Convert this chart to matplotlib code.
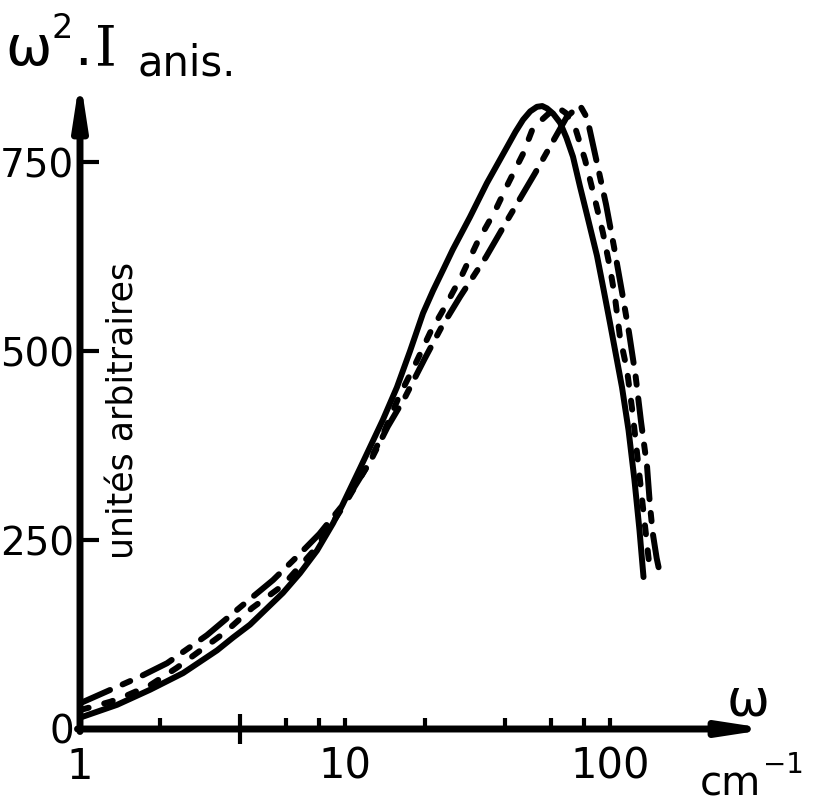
import matplotlib
matplotlib.use('Agg')
import matplotlib.pyplot as plt
from matplotlib.ticker import FixedLocator, FixedFormatter, NullFormatter


# omega (cm-1) and w^2.I_anis (arbitrary units)
omega_solid = [1.0, 1.38, 1.84, 2.45, 3.29, 3.78, 4.38, 5.83, 6.76, 7.84, 9.01, 9.8,
               11.4, 13.9, 15.7, 17.6, 19.7, 21.5, 23.5, 25.5, 29.6, 34.3, 40.9, 44,
               47, 50, 53, 55.5, 57.8, 61, 64.8, 68.5, 72.5, 77, 81.9, 89.3, 94.5,
               100, 111, 117.5, 123.7, 129.2, 133.8]
I_solid = [15, 32, 52, 74, 104, 121, 138, 180, 206, 236, 272, 297,
           345, 409, 452, 500, 550, 580, 608, 634, 677, 722, 770, 790,
           806, 817, 823, 824, 821, 814, 802, 782, 757, 718, 680, 626, 582,
           537, 452, 395, 329, 263, 201]

omega_dash = [1.0, 1.30, 1.45, 1.84, 2.32, 3.53, 4.46, 5.83, 7.8, 10, 12, 14, 16,
              18.5, 21, 23.8, 27.6, 31.5, 36.8, 41.2, 47, 51.2, 57.8, 63, 68, 73.8,
              80.5, 87.8, 94.1, 100, 104.4, 109, 115.9, 121, 124.7, 128.3, 132.6,
              136.7, 140.4]
I_dash = [25, 36, 42, 58, 81, 128, 160, 190, 240, 298, 345, 392, 440,
          484, 525, 558, 600, 643, 685, 721, 761, 795, 812, 823, 815, 796,
          753, 700, 656, 610, 571, 519, 475, 425, 385, 345, 299,
          257, 220]

omega_dd = [1.0, 1.68, 2.13, 3.01, 4.02, 5.35, 6.59, 8.0, 10, 12.5, 14.5, 16.8, 20,
            23, 27.2, 34.0, 41.6, 52.1, 62, 68.8, 77, 82, 85.5, 96.6, 103.5, 111,
            118, 125, 131, 138, 141.5, 145, 150, 154]
I_dd = [34, 69, 87, 124, 161, 197, 228, 258, 300, 355, 400, 438, 490,
        530, 572, 624, 677, 735, 782, 810, 825, 808, 779, 694, 638, 578,
        524, 466, 406, 347, 296, 259, 226, 207]

xtick_pos = [1, 2, 6, 8, 10, 20, 40, 60, 80, 100]
xtick_labels = ['1', '', '', '', '10', '', '', '', '', '100']
ytick_pos = [0, 250, 500, 750]
ytick_labels = ['0', '250', '500', '750']

W, H, DPI = 813, 810, 100
X0_PX = 80        # omega = 1
DEC_PX = 265      # one decade
Y0_PX = 729       # intensity = 0
K = 250 / 189     # units per pixel


def px(x, y):
    return x / W, 1 - y / H


def main():
    plt.rcParams['font.family'] = 'DejaVu Sans'

    fig = plt.figure(figsize=(W / DPI, H / DPI), dpi=DPI)
    ax = fig.add_axes([0, 0, 1, 1])
    ax.set_xscale('log')
    ax.set_xlim(10 ** (-X0_PX / DEC_PX), 10 ** ((W - X0_PX) / DEC_PX))
    ax.set_ylim(-(H - Y0_PX) * K, Y0_PX * K)

    lw = 4.3
    ax.plot(omega_solid, I_solid, color='k', lw=lw,
            solid_capstyle='round', solid_joinstyle='round')
    ax.plot(omega_dash, I_dash, color='k', lw=lw, linestyle=(0, (1.5, 2.7)),
            dash_capstyle='round', dash_joinstyle='round')
    ax.plot(omega_dd, I_dd, color='k', lw=lw, linestyle=(0, (5.5, 2.3, 1.4, 2.3)),
            dash_capstyle='round', dash_joinstyle='round')

    # axes drawn as arrows, ticks sit on invisible spines
    for s in ax.spines.values():
        s.set_visible(False)
    ax.spines['left'].set_position(('data', 1))
    ax.spines['bottom'].set_position(('data', 0))

    head = '-|>,head_length=1.3,head_width=0.2'
    ax.annotate('', xy=(10 ** ((770 - X0_PX) / DEC_PX), 0),
                xytext=(10 ** (-2.5 / DEC_PX), 0),
                arrowprops=dict(arrowstyle=head, lw=5, color='k', shrinkA=0,
                                shrinkB=0, mutation_scale=20),
                annotation_clip=False)
    ax.annotate('', xy=(1, (Y0_PX - 77) * K), xytext=(1, -2.5 * K),
                arrowprops=dict(arrowstyle=head, lw=5, color='k', shrinkA=0,
                                shrinkB=0, mutation_scale=20),
                annotation_clip=False)

    ax.xaxis.set_major_locator(FixedLocator(xtick_pos))
    ax.xaxis.set_major_formatter(FixedFormatter(xtick_labels))
    ax.xaxis.set_minor_locator(FixedLocator([4]))
    ax.xaxis.set_minor_formatter(NullFormatter())
    ax.tick_params(axis='x', which='major', direction='in', length=8, width=3,
                   pad=12, labelsize=30)
    ax.tick_params(axis='x', which='minor', direction='inout', length=21, width=3)

    ax.yaxis.set_major_locator(FixedLocator(ytick_pos))
    ax.yaxis.set_major_formatter(FixedFormatter(ytick_labels))
    ax.yaxis.set_minor_locator(FixedLocator([]))
    ax.tick_params(axis='y', direction='in', length=14, width=3, pad=4,
                   labelsize=28)

    tr = ax.transAxes
    ax.text(*px(5, 65), 'ω', fontsize=40, transform=tr, va='baseline')
    ax.text(*px(52, 38), '2', fontsize=24, transform=tr, va='baseline')
    ax.text(*px(74, 65), '.', fontsize=40, transform=tr, va='baseline')
    ax.text(*px(95, 65), 'I', fontsize=40, family='DejaVu Serif', transform=tr,
            va='baseline')
    ax.text(*px(137, 75), 'anis.', fontsize=30, transform=tr, va='baseline')

    ax.text(*px(133, 410), 'unités arbitraires', fontsize=25, rotation=90,
            rotation_mode='anchor', ha='center', va='baseline', transform=tr)

    ax.text(*px(727, 715), 'ω', fontsize=37, transform=tr, va='baseline')
    ax.text(*px(700, 795), 'cm', fontsize=29, transform=tr, va='baseline')
    ax.text(*px(763, 773), '−1', fontsize=20, transform=tr, va='baseline')

    fig.savefig('out.png', dpi=DPI)


if __name__ == '__main__':
    main()
